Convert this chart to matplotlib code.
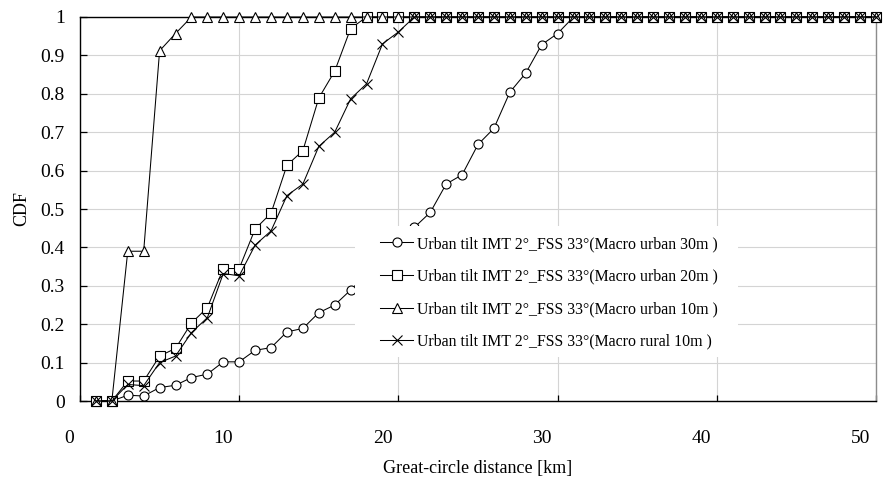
import matplotlib
matplotlib.use("Agg")
import matplotlib.pyplot as plt
import matplotlib.transforms as mtransforms
from matplotlib.patches import Rectangle

plt.rcParams['font.family'] = ['Liberation Serif', 'DejaVu Serif']

# distance samples (km)
dist = list(range(1, 51))

# CDF values
urban_30m = [0, 0, 0.015, 0.013, 0.035, 0.041, 0.061, 0.07, 0.102, 0.102,
             0.132, 0.139, 0.18, 0.189, 0.23, 0.25, 0.289, 0.33, 0.37, 0.41,
             0.452, 0.491, 0.565, 0.589, 0.668, 0.71, 0.804, 0.854, 0.928, 0.957] + [1.0] * 20
urban_20m = [0, 0, 0.052, 0.052, 0.117, 0.137, 0.203, 0.243, 0.345, 0.345,
             0.448, 0.489, 0.614, 0.652, 0.789, 0.859, 0.970] + [1.0] * 33
urban_10m = [0, 0, 0.39, 0.39, 0.912, 0.957] + [1.0] * 44
rural_10m = [0, 0, 0.043, 0.04, 0.1, 0.117, 0.178, 0.217, 0.332, 0.326,
             0.406, 0.443, 0.535, 0.565, 0.663, 0.7, 0.787, 0.826, 0.93, 0.961] + [1.0] * 30

labels = ['Urban tilt IMT 2°_FSS 33°(Macro urban 30m )',
          'Urban tilt IMT 2°_FSS 33°(Macro urban 20m )',
          'Urban tilt IMT 2°_FSS 33°(Macro urban 10m )',
          'Urban tilt IMT 2°_FSS 33°(Macro rural 10m )']
series = [urban_30m, urban_20m, urban_10m, rural_10m]
markers = ['o', 's', '^', 'x']
msizes = [6.5, 6.5, 7.0, 7.0]

fig = plt.figure(figsize=(8.84, 4.79), dpi=100)
ax = fig.add_axes([80 / 884, 78 / 479, 796 / 884, 384 / 479])

handles = []
for ys, m, ms, lab in zip(series, markers, msizes, labels):
    h, = ax.plot(dist, ys, color='black', linewidth=0.75, marker=m,
                 markersize=ms, markerfacecolor='white',
                 markeredgecolor='black', markeredgewidth=0.8,
                 label=lab, clip_on=False, zorder=3)
    handles.append(h)

ax.set_xlim(0, 50)
ax.set_ylim(0, 1)
ax.set_xticks([0, 10, 20, 30, 40, 50])
ax.set_yticks([0, 0.1, 0.2, 0.3, 0.4, 0.5, 0.6, 0.7, 0.8, 0.9, 1])
ax.set_yticklabels(['0', '0.1', '0.2', '0.3', '0.4', '0.5', '0.6', '0.7',
                    '0.8', '0.9', '1'])
ax.grid(True, color='#d4d4d4', linewidth=0.8)
ax.set_axisbelow(True)

ax.tick_params(axis='x', direction='in', length=4, width=0.9, pad=21,
               labelsize=14)
ax.tick_params(axis='y', direction='in', length=5, width=0.9, pad=11,
               labelsize=14)
shift = mtransforms.ScaledTranslation(-0.06, 0, fig.dpi_scale_trans)
for lbl in ax.get_xticklabels():
    lbl.set_horizontalalignment('right')
    lbl.set_transform(lbl.get_transform() + shift)

for side in ['left', 'bottom', 'top']:
    ax.spines[side].set_color('black')
    ax.spines[side].set_linewidth(1.0)
ax.spines['right'].set_color('#8c8c8c')
ax.spines['right'].set_linewidth(1.0)

ax.set_xlabel('Great-circle distance [km]', fontsize=13, labelpad=9)
ax.set_ylabel('CDF', fontsize=13, labelpad=7)

# white box behind the legend, covering grid and lines
ax.add_patch(Rectangle((0.3455, 0.1146), 0.481, 0.341, transform=ax.transAxes,
                       facecolor='white', edgecolor='none', zorder=4))
leg = ax.legend(handles=handles, loc='upper left',
                bbox_to_anchor=(380 / 884, 1 - 236 / 479),
                bbox_transform=fig.transFigure, frameon=False,
                fontsize=11.4, labelspacing=1.05, handlelength=2.1,
                handletextpad=0.25, borderpad=0, borderaxespad=0)
leg.set_zorder(5)

fig.savefig('out.png', dpi=100)
